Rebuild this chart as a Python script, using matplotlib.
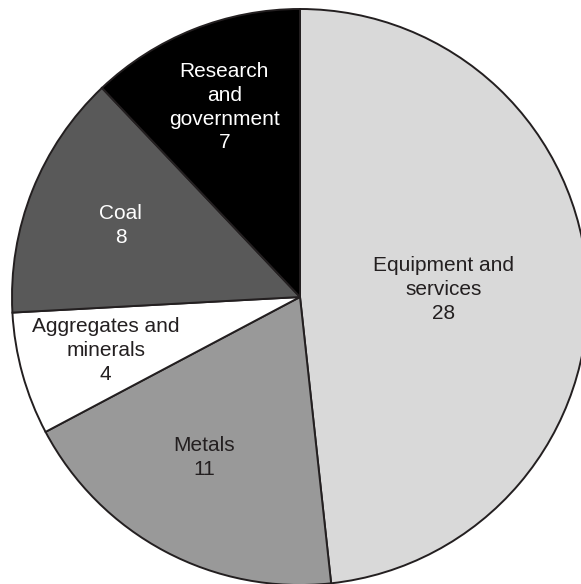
import numpy as np
import matplotlib
matplotlib.use("Agg")
import matplotlib.pyplot as plt

categories = ["Equipment and\nservices", "Metals", "Aggregates and\nminerals", "Coal", "Research\nand\ngovernment"]
values = [28, 11, 4, 8, 7]
colors = ["#d9d9d9", "#999999", "#ffffff", "#595959", "#000000"]
text_colors = ["#231f20", "#231f20", "#231f20", "#ffffff", "#ffffff"]
label_radii = [0.50, 0.65, 0.70, 0.67, 0.71]
label_angle_shift = [0, 3, 0, 0, 0]

W, H = 581, 584
fig = plt.figure(figsize=(W / 100, H / 100), dpi=100)
ax = fig.add_axes([0, 0, 1, 1])

cx, cy, R = 300, H - 297, 288
wedges, _ = ax.pie(values, startangle=90, counterclock=False, colors=colors,
                   center=(cx, cy), radius=R, frame=True,
                   wedgeprops=dict(edgecolor="#231f20", linewidth=1.4))
ax.set_xlim(0, W)
ax.set_ylim(0, H)
ax.set_aspect("equal")
ax.axis("off")

for w, cat, val, tc, lr, da in zip(wedges, categories, values, text_colors,
                                   label_radii, label_angle_shift):
    mid = np.deg2rad((w.theta1 + w.theta2) / 2 - da)
    x = cx + lr * R * np.cos(mid)
    y = cy + lr * R * np.sin(mid)
    ax.text(x, y, f"{cat}\n{val}", ha="center", va="center", color=tc,
            fontsize=15, family="Liberation Sans", linespacing=1.33)

fig.savefig("out.png", dpi=100)
